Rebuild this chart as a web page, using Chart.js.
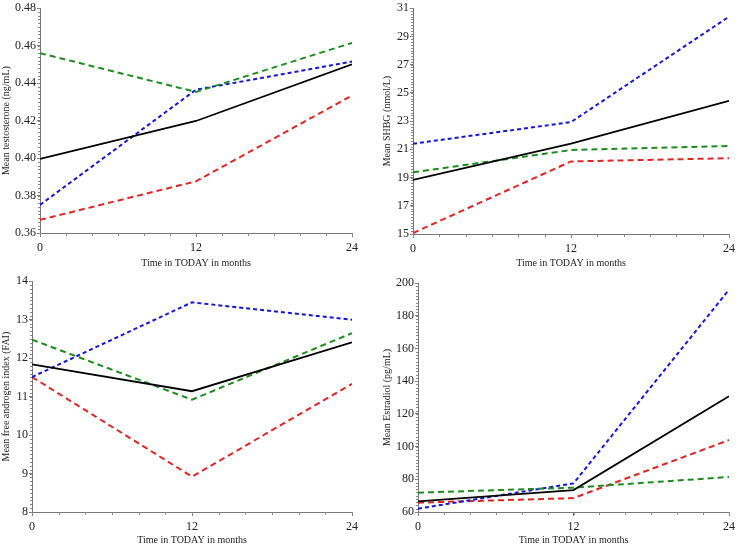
<!DOCTYPE html>
<html>
<head>
<meta charset="utf-8">
<script src="https://cdn.jsdelivr.net/npm/chart.js@4"></script>
<style>
  html, body { margin: 0; padding: 0; background: #fff; }
  #wrap { position: relative; width: 739px; height: 546px; }
  .panel { position: absolute; }
</style>
</head>
<body>
<div id="wrap">
  <div class="panel" style="left:0;top:0;width:370px;height:273px"><canvas id="c1"></canvas></div>
  <div class="panel" style="left:370px;top:0;width:369px;height:273px"><canvas id="c2"></canvas></div>
  <div class="panel" style="left:0;top:273px;width:370px;height:273px"><canvas id="c3"></canvas></div>
  <div class="panel" style="left:370px;top:273px;width:369px;height:273px"><canvas id="c4"></canvas></div>
</div>
<script>
// Zeitpunkte (Monate)
const months = [0, 12, 24];

// Testosteron (ng/mL)
const testoOverall = [0.3996, 0.4198, 0.4500];
const testoGreen   = [0.4560, 0.4353, 0.4615];
const testoBlue    = [0.3750, 0.4365, 0.4515];
const testoRed     = [0.3670, 0.3876, 0.4334];

// SHBG (nmol/L)
const shbgOverall = [18.84, 21.40, 24.44];
const shbgGreen   = [19.37, 20.95, 21.23];
const shbgBlue    = [21.40, 22.93, 30.40];
const shbgRed     = [15.07, 20.14, 20.37];

// FAI
const faiOverall = [11.84, 11.14, 12.41];
const faiGreen   = [12.48, 10.92, 12.65];
const faiBlue    = [11.51, 13.45, 13.00];
const faiRed     = [11.51, 8.92, 11.33];

// Estradiol (pg/mL)
const e2Overall = [66.5, 73.4, 130.8];
const e2Green   = [71.8, 74.9, 81.4];
const e2Blue    = [62.0, 77.5, 195.9];
const e2Red     = [65.7, 68.5, 104.0];

const xTicks = [0, 12, 24];

const FONT = "'Liberation Serif', 'Times New Roman', serif";

/* --------- kleine Nebenstriche an den Achsen --------- */
const minorTicks = {
  id: "minorTicks",
  afterDraw(chart, args, opts) {
    const ctx = chart.ctx;
    const xs = chart.scales.x;
    const ys = chart.scales.y;
    ctx.save();
    ctx.strokeStyle = "#888";
    ctx.lineWidth = 1;
    ctx.beginPath();
    for (let v = xs.min; v <= xs.max + 1e-9; v += opts.xStep) {
      const px = Math.round(xs.getPixelForValue(v)) + 0.5;
      ctx.moveTo(px, xs.top);
      ctx.lineTo(px, xs.top + 3);
    }
    const n = Math.round((ys.max - ys.min) / opts.yStep);
    for (let i = 0; i <= n; i++) {
      const py = Math.round(ys.getPixelForValue(ys.min + i * opts.yStep)) + 0.5;
      ctx.moveTo(ys.right, py);
      ctx.lineTo(ys.right - 2, py);
    }
    ctx.stroke();
    ctx.restore();
  }
};

function toPoints(vals) {
  return vals.map((v, i) => ({ x: months[i], y: v }));
}

function makePanel(id, yTitle, yMin, yMax, yStep, decimals, series, lay) {
  const ds = [
    { data: toPoints(series[0]), borderColor: "#000", borderWidth: 1.8, borderDash: [] },
    { data: toPoints(series[1]), borderColor: "#1f8a1f", borderWidth: 2, borderDash: [6, 4] },
    { data: toPoints(series[2]), borderColor: "#1515d8", borderWidth: 2, borderDash: [4, 3] },
    { data: toPoints(series[3]), borderColor: "#e02525", borderWidth: 2, borderDash: [6, 4] }
  ].map(d => Object.assign(d, { pointRadius: 0, tension: 0, fill: false }));

  new Chart(document.getElementById(id), {
    type: "line",
    data: { datasets: ds },
    options: {
      responsive: true,
      maintainAspectRatio: false,
      animation: false,
      layout: { padding: { top: lay.top, right: lay.right, left: 0, bottom: 0 } },
      plugins: {
        legend: { display: false },
        tooltip: { enabled: false },
        minorTicks: { xStep: 2, yStep: yStep / 10 }
      },
      scales: {
        x: {
          type: "linear",
          min: 0,
          max: 24,
          afterBuildTicks: s => { s.ticks = xTicks.map(v => ({ value: v })); },
          afterFit: s => { s.height = lay.xh; },
          grid: { drawOnChartArea: false, tickLength: 4, color: "#777" },
          border: { color: "#777", width: 1 },
          ticks: { color: "#222", padding: 4, font: { family: FONT, size: 12 } },
          title: {
            display: true,
            text: "Time in TODAY in months",
            color: "#222",
            font: { family: FONT, size: 10 },
            padding: { top: 0, bottom: lay.tb }
          }
        },
        y: {
          min: yMin,
          max: yMax,
          afterFit: s => { s.width = lay.yw; },
          ticks: {
            stepSize: yStep,
            color: "#222",
            padding: 1,
            font: { family: FONT, size: 12 },
            callback: v => Number(v).toFixed(decimals)
          },
          grid: { drawOnChartArea: false, tickLength: 3, color: "#777" },
          border: { color: "#777", width: 1 },
          title: {
            display: true,
            text: yTitle,
            color: "#222",
            font: { family: FONT, size: 10 },
            padding: { top: lay.yt, bottom: 0 }
          }
        }
      }
    },
    plugins: [minorTicks]
  });
}

makePanel("c1", "Mean testosterone (ng/mL)", 0.36, 0.48, 0.02, 2,
  [testoOverall, testoGreen, testoBlue, testoRed],
  { top: 6, right: 18, xh: 40, yw: 40, tb: 4, yt: 0 });

makePanel("c2", "Mean SHBG (nmol/L)", 15, 31, 2, 0,
  [shbgOverall, shbgGreen, shbgBlue, shbgRed],
  { top: 5, right: 6, xh: 39, yw: 43, tb: 4, yt: 11 });

makePanel("c3", "Mean free androgen index (FAI)", 8, 14, 1, 0,
  [faiOverall, faiGreen, faiBlue, faiRed],
  { top: 8, right: 18, xh: 34, yw: 32, tb: 0, yt: 0 });

makePanel("c4", "Mean Estradiol (pg/mL)", 60, 200, 20, 0,
  [e2Overall, e2Green, e2Blue, e2Red],
  { top: 10, right: 6, xh: 34, yw: 48, tb: 0, yt: 11 });
</script>
</body>
</html>
